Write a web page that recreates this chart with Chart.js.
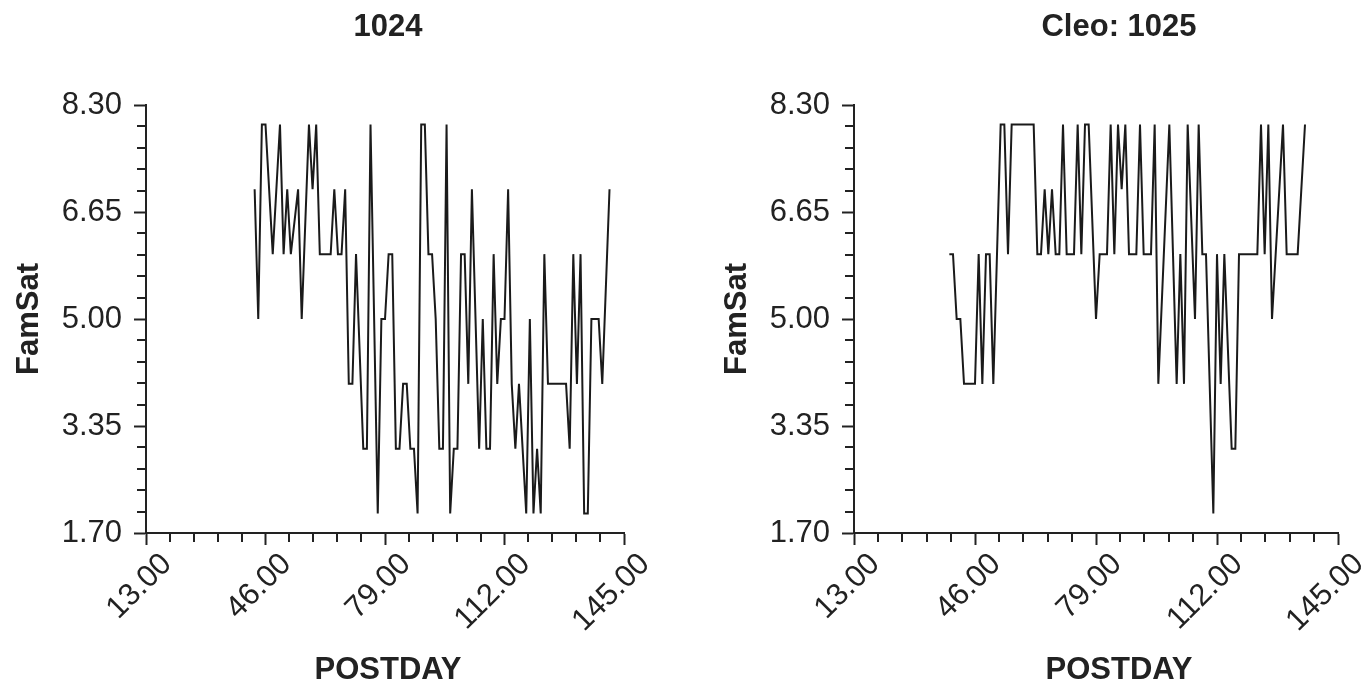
<!DOCTYPE html>
<html>
<head>
<meta charset="utf-8">
<script src="https://cdn.jsdelivr.net/npm/chart.js@4.4.0/dist/chart.umd.min.js"></script>
<style>
html, body { margin: 0; padding: 0; background: #fff; }
#wrap { position: relative; width: 1372px; height: 689px; }
canvas { position: absolute; top: 0; }
</style>
</head>
<body>
<div id="wrap">
  <canvas id="c1" width="686" height="689" style="left:0"></canvas>
  <canvas id="c2" width="686" height="689" style="left:686px"></canvas>
</div>
<script>
// tick labels
const xTickValues = [13, 46, 79, 112, 145];
const yTickValues = [1.70, 3.35, 5.00, 6.65, 8.30];

// panel 1024
const leftDays = [43, 44, 45, 46, 48, 50, 51, 52, 53, 55, 56, 58, 59, 60, 61, 64, 65, 66, 67, 68,
  69, 70, 71, 73, 74, 75, 77, 78, 79, 80, 81, 82, 83, 84, 85, 86, 87, 88, 89, 90,
  91, 92, 93, 94, 95, 96, 97, 98, 99, 100, 101, 102, 103, 105, 106, 107, 108, 109, 110, 111,
  112, 113, 114, 115, 116, 118, 119, 120, 121, 122, 123, 124, 129, 130, 131, 132, 133, 134, 135, 136,
  138, 139, 141];
const leftFamSat = [7, 5, 8, 8, 6, 8, 6, 7, 6, 7, 5, 8, 7, 8, 6, 6, 7, 6, 6, 7,
  4, 4, 6, 3, 3, 8, 2, 5, 5, 6, 6, 3, 3, 4, 4, 3, 3, 2, 8, 8,
  6, 6, 5, 3, 3, 8, 2, 3, 3, 6, 6, 4, 7, 3, 5, 3, 3, 6, 4, 5,
  5, 7, 4, 3, 4, 2, 5, 2, 3, 2, 6, 4, 4, 3, 6, 4, 6, 2, 2, 5,
  5, 4, 7];

// panel Cleo: 1025
const rightDays = [39, 40, 41, 42, 43, 46, 47, 48, 49, 50, 51, 53, 54, 55, 56, 62, 63, 64, 65, 66,
  67, 68, 69, 70, 71, 73, 74, 75, 76, 77, 79, 80, 82, 83, 84, 85, 86, 87, 88, 90,
  91, 92, 94, 95, 96, 99, 101, 102, 103, 104, 106, 107, 108, 109, 111, 112, 113, 114, 116, 117,
  118, 123, 124, 125, 126, 127, 130, 131, 134, 136];
const rightFamSat = [6, 6, 5, 5, 4, 4, 6, 4, 6, 6, 4, 8, 8, 6, 8, 8, 6, 6, 7, 6,
  7, 6, 6, 8, 6, 6, 8, 6, 8, 8, 5, 6, 6, 8, 6, 8, 7, 8, 6, 6,
  8, 6, 6, 8, 4, 8, 4, 6, 4, 8, 5, 8, 6, 6, 2, 6, 4, 6, 3, 3,
  6, 6, 8, 6, 8, 5, 8, 6, 6, 8];

const ink = '#222';
const fontFamily = '"Liberation Sans", Arial, Helvetica, sans-serif';

// four small ticks between the labelled ones
const minorTicks = {
  id: 'minorTicks',
  afterDraw(chart) {
    const ctx = chart.ctx;
    const xs = chart.scales.x, ys = chart.scales.y;
    ctx.save();
    ctx.strokeStyle = ink;
    ctx.lineWidth = 2;
    ctx.beginPath();
    for (let i = 0; i < xTickValues.length - 1; i++) {
      const step = (xTickValues[i + 1] - xTickValues[i]) / 5;
      for (let k = 1; k < 5; k++) {
        const px = Math.round(xs.getPixelForValue(xTickValues[i] + k * step));
        ctx.moveTo(px, xs.top);
        ctx.lineTo(px, xs.top + 9);
      }
    }
    for (let i = 0; i < yTickValues.length - 1; i++) {
      const step = (yTickValues[i + 1] - yTickValues[i]) / 5;
      for (let k = 1; k < 5; k++) {
        const py = Math.round(ys.getPixelForValue(yTickValues[i] + k * step));
        ctx.moveTo(ys.right, py);
        ctx.lineTo(ys.right - 9, py);
      }
    }
    ctx.stroke();
    ctx.restore();
  }
};

// panel title and x title, centred a little off the plot area like the original
const panelText = {
  id: 'panelText',
  afterDraw(chart, args, opts) {
    const ctx = chart.ctx;
    const a = chart.chartArea;
    const cx = (a.left + a.right) / 2 + opts.shift;
    ctx.save();
    ctx.font = 'bold 31px ' + fontFamily;
    ctx.fillStyle = ink;
    ctx.textAlign = 'center';
    ctx.textBaseline = 'alphabetic';
    ctx.fillText(opts.title, cx, 36);
    ctx.fillText(opts.xTitle, cx, 679);
    ctx.restore();
  }
};

function makePanel(el, days, famSat, title, p) {
  return new Chart(document.getElementById(el), {
    type: 'line',
    data: {
      datasets: [{
        label: title,
        data: days.map((d, i) => ({ x: d, y: famSat[i] })),
        borderColor: '#1a1a1a',
        borderWidth: 2,
        pointRadius: 0,
        tension: 0,
        fill: false
      }]
    },
    options: {
      responsive: false,
      animation: false,
      layout: { padding: { left: 0, right: p.right, top: 105, bottom: 0 } },
      plugins: {
        legend: { display: false },
        tooltip: { enabled: false },
        title: { display: false },
        panelText: { title: title, xTitle: 'POSTDAY', shift: p.shift }
      },
      scales: {
        x: {
          type: 'linear',
          min: 13,
          max: 145,
          afterBuildTicks: s => { s.ticks = xTickValues.map(v => ({ value: v })); },
          afterFit: s => { s.height = 156; },
          grid: { drawOnChartArea: false, drawTicks: true, tickLength: 12, tickColor: ink, tickWidth: 2 },
          border: { display: true, color: ink, width: 2 },
          ticks: {
            color: ink,
            font: { family: fontFamily, size: 31 },
            minRotation: 45,
            maxRotation: 45,
            padding: 1,
            labelOffset: 21,
            callback: v => Number(v).toFixed(2)
          }
        },
        y: {
          min: 1.7,
          max: 8.3,
          afterBuildTicks: s => { s.ticks = yTickValues.map(v => ({ value: v })); },
          afterFit: s => { s.width = p.yWidth; },
          grid: { drawOnChartArea: false, drawTicks: true, tickLength: 12, tickColor: ink, tickWidth: 2 },
          border: { display: true, color: ink, width: 2 },
          ticks: {
            color: ink,
            font: { family: fontFamily, size: 31 },
            padding: 12,
            callback: v => Number(v).toFixed(2)
          },
          title: {
            display: true,
            text: 'FamSat',
            color: ink,
            font: { family: fontFamily, size: 31, weight: 'bold' },
            padding: { top: p.yTitlePad, bottom: 0 }
          }
        }
      }
    },
    plugins: [minorTicks, panelText]
  });
}

makePanel('c1', leftDays, leftFamSat, '1024', { yWidth: 146, right: 62, shift: 3, yTitlePad: 11 });
makePanel('c2', rightDays, rightFamSat, 'Cleo: 1025', { yWidth: 168, right: 34, shift: 23, yTitlePad: 33 });
</script>
</body>
</html>
